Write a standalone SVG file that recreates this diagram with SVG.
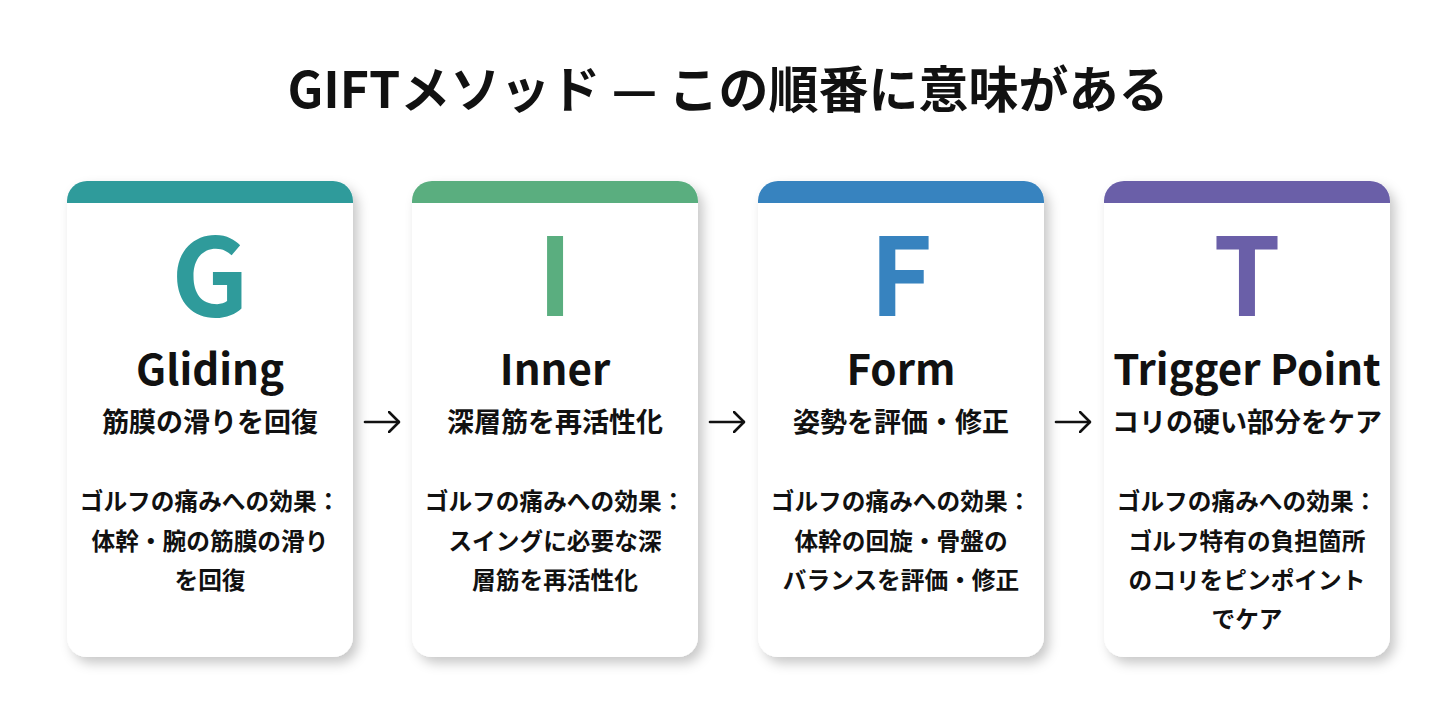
<svg xmlns="http://www.w3.org/2000/svg" width="1456" height="720" viewBox="0 0 1456 720">
<defs>
<style>
text{font-family:"Noto Sans CJK JP","Noto Sans",sans-serif;font-weight:700;text-anchor:middle;fill:#111}
.title{font-size:50px}
.big{font-size:108px}
.name{font-size:42px}
.sub{font-size:27px}
.desc{font-size:23.7px}
.card{fill:#fff;filter:url(#sh)}
.conn{stroke:#111;stroke-width:2.6;fill:none;stroke-linecap:round}
</style>
<filter id="sh" x="-20%" y="-20%" width="150%" height="140%">
<feDropShadow dx="5" dy="6" stdDeviation="6" flood-color="#000" flood-opacity="0.22"/>
</filter>
<marker id="ah" viewBox="0 0 12 22" refX="11" refY="11" markerWidth="12" markerHeight="22" markerUnits="userSpaceOnUse" orient="auto">
<path d="M1 1 L11 11 L1 21" fill="none" stroke="#111" stroke-width="2.6" stroke-linecap="round" stroke-linejoin="round"/>
</marker>
</defs>
<rect width="1456" height="720" fill="#fff"/>
<text class="title" x="728" y="108">GIFTメソッド — この順番に意味がある</text>

<g id="card-g">
<rect class="card" x="67" y="181" width="286" height="476" rx="20"/>
<path d="M67 203 V201 A20 20 0 0 1 87 181 H333 A20 20 0 0 1 353 201 V203 Z" fill="#2f9b9b"/>
<text class="big" x="210" y="316" style="fill:#2f9b9b">G</text>
<text class="name" x="210" y="385">Gliding</text>
<text class="sub" x="210" y="432">筋膜の滑りを回復</text>
<text class="desc" x="210" y="510">ゴルフの痛みへの効果：</text>
<text class="desc" x="210" y="550">体幹・腕の筋膜の滑り</text>
<text class="desc" x="210" y="589">を回復</text>
</g>

<g id="card-i">
<rect class="card" x="412" y="181" width="286" height="476" rx="20"/>
<path d="M412 203 V201 A20 20 0 0 1 432 181 H678 A20 20 0 0 1 698 201 V203 Z" fill="#5aae7f"/>
<text class="big" x="555" y="316" style="fill:#5aae7f">I</text>
<text class="name" x="555" y="385">Inner</text>
<text class="sub" x="555" y="432">深層筋を再活性化</text>
<text class="desc" x="555" y="510">ゴルフの痛みへの効果：</text>
<text class="desc" x="555" y="550">スイングに必要な深</text>
<text class="desc" x="555" y="589">層筋を再活性化</text>
</g>

<g id="card-f">
<rect class="card" x="758" y="181" width="286" height="476" rx="20"/>
<path d="M758 203 V201 A20 20 0 0 1 778 181 H1024 A20 20 0 0 1 1044 201 V203 Z" fill="#3783bf"/>
<text class="big" x="901" y="316" style="fill:#3783bf">F</text>
<text class="name" x="901" y="385">Form</text>
<text class="sub" x="901" y="432">姿勢を評価・修正</text>
<text class="desc" x="901" y="510">ゴルフの痛みへの効果：</text>
<text class="desc" x="901" y="550">体幹の回旋・骨盤の</text>
<text class="desc" x="901" y="589">バランスを評価・修正</text>
</g>

<g id="card-t">
<rect class="card" x="1104" y="181" width="286" height="476" rx="20"/>
<path d="M1104 203 V201 A20 20 0 0 1 1124 181 H1370 A20 20 0 0 1 1390 201 V203 Z" fill="#6a5fa8"/>
<text class="big" x="1247" y="316" style="fill:#6a5fa8">T</text>
<text class="name" x="1247" y="385">Trigger Point</text>
<text class="sub" x="1247" y="432">コリの硬い部分をケア</text>
<text class="desc" x="1247" y="510">ゴルフの痛みへの効果：</text>
<text class="desc" x="1247" y="550">ゴルフ特有の負担箇所</text>
<text class="desc" x="1247" y="589">のコリをピンポイント</text>
<text class="desc" x="1247" y="628">でケア</text>
</g>

<g id="connectors">
<path class="conn" d="M365 422 H399" marker-end="url(#ah)"/>
<path class="conn" d="M710 422 H744" marker-end="url(#ah)"/>
<path class="conn" d="M1056 422 H1090" marker-end="url(#ah)"/>
</g>
</svg>
